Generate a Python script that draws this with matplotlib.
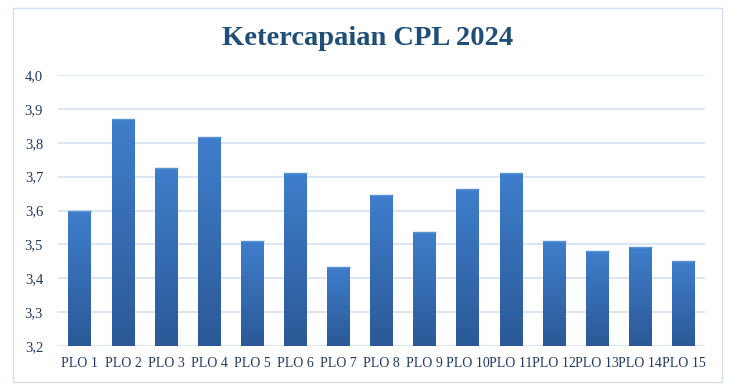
import matplotlib.pyplot as plt
import numpy as np
from matplotlib.colors import LinearSegmentedColormap
from matplotlib.patches import Rectangle

plos = ["PLO 1", "PLO 2", "PLO 3", "PLO 4", "PLO 5", "PLO 6", "PLO 7", "PLO 8",
        "PLO 9", "PLO 10", "PLO 11", "PLO 12", "PLO 13", "PLO 14", "PLO 15"]
scores = [3.60, 3.87, 3.727, 3.816, 3.509, 3.71, 3.432, 3.645,
          3.536, 3.665, 3.712, 3.509, 3.482, 3.491, 3.45]
y_ticks = [3.2, 3.3, 3.4, 3.5, 3.6, 3.7, 3.8, 3.9, 4.0]

TEXT = "#203864"
GRID = "#dbe5f4"
plt.rcParams["font.family"] = ["Liberation Serif", "DejaVu Serif"]

fig = plt.figure(figsize=(7.31, 3.89), dpi=100)
ax = fig.add_axes([0.0798, 0.1105, 0.8846, 0.6965])

# chart frame
fig.patches.append(Rectangle((12.5 / 731, 7.5 / 389), 709.5 / 731, 374 / 389,
                             transform=fig.transFigure, fill=False,
                             edgecolor="#d4dff0", linewidth=1.0))

x = np.arange(len(plos))
bars = ax.bar(x, [s - 3.2 for s in scores], bottom=3.2, width=0.53,
              color="#3570b8", edgecolor="none", zorder=2)

# vertical gradient inside each bar
cmap = LinearSegmentedColormap.from_list("barfill", ["#2b5997", "#3f7ecc"])
grad = np.linspace(0, 1, 256).reshape(-1, 1)
for b in bars:
    x0, y0 = b.get_x(), b.get_y()
    w, h = b.get_width(), b.get_height()
    im = ax.imshow(grad, cmap=cmap, origin="lower", aspect="auto",
                   extent=(x0, x0 + w, y0, y0 + h), zorder=3)
    im.set_clip_path(b)
    ax.plot([x0, x0 + w], [y0 + h, y0 + h], color="#5b93d6", lw=1.0, zorder=4,
            solid_capstyle="butt")

ax.set_xlim(-0.5, len(plos) - 0.5)
ax.set_ylim(3.2, 4.0)
ax.set_yticks(y_ticks)
ax.set_yticklabels([f"{v:.1f}".replace(".", ",") for v in y_ticks])
ax.set_xticks(x)
ax.set_xticklabels(plos)
ax.tick_params(axis="y", length=0, pad=11, labelsize=10.5, labelcolor=TEXT)
ax.tick_params(axis="x", length=0, pad=8, labelsize=10, labelcolor=TEXT)
ax.yaxis.grid(True, color=GRID, linewidth=1.4, zorder=0)
ax.set_axisbelow(True)
for s in ax.spines.values():
    s.set_visible(False)

fig.text(0.5035, 0.9, "Ketercapaian CPL 2024", ha="center", va="center",
         fontsize=20.5, fontweight="bold", color="#1f4e79")

fig.savefig("out.png", dpi=100)
